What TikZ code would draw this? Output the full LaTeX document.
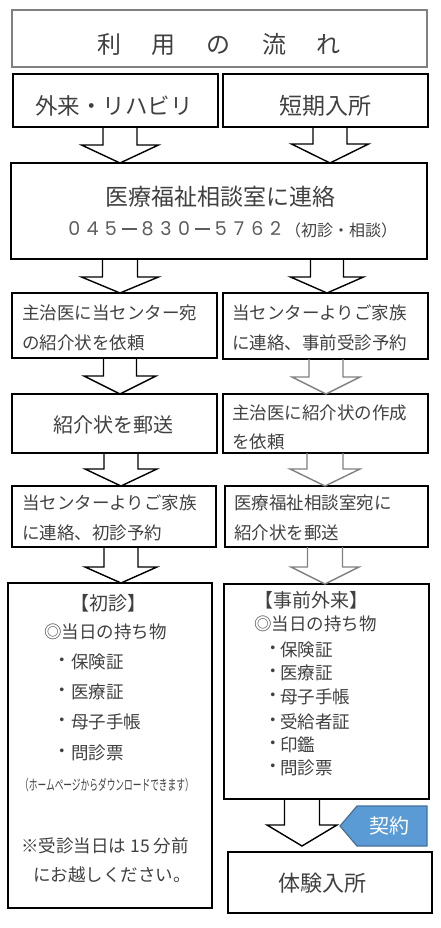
\documentclass[tikz,border=0pt]{standalone}
\usepackage{fontspec}
\usepackage{graphicx}
\newfontfamily\jp{Noto Sans CJK JP}
\newfontfamily\pop{Poppins}
\usetikzlibrary{fit,calc}
\definecolor{txt}{HTML}{404040}
\definecolor{graybd}{HTML}{808080}
\definecolor{tagfill}{HTML}{5B9BD5}
\definecolor{tagbd}{HTML}{41719C}
\newcommand\dg[1]{\makebox[18.3pt][c]{#1}}
\newcommand\dsh{\makebox[18.3pt][c]{\rule[0.33em]{15pt}{1.3pt}}}
\newcommand\barrow[7]{\draw[#1] let \p1=(#2), \p2=(#3) in
 (#4pt-#5pt,\y1) -- (#4pt-#5pt,\y2+#7pt) -- (#4pt-#6pt,\y2+#7pt) -- (#4pt,\y2) --
 (#4pt+#6pt,\y2+#7pt) -- (#4pt+#5pt,\y2+#7pt) -- (#4pt+#5pt,\y1);}
\begin{document}
\begin{tikzpicture}[x=1pt,y=-1pt,
  box/.style={draw=black, line width=1.2pt, inner sep=0pt, outer sep=0pt},
  tbox/.style={draw=graybd, line width=1.3pt, inner sep=0pt, outer sep=0pt},
  lbl/.style={text=txt, inner sep=0pt, font=\jp\fontsize{17.5pt}{20pt}\selectfont},
  big/.style={lbl, font=\jp\fontsize{23pt}{26pt}\selectfont},
  mid/.style={lbl, font=\jp\fontsize{20pt}{24pt}\selectfont},
  blkarr/.style={draw=black, line width=1.4pt, line join=miter},
  grayarr/.style={draw=graybd, line width=1.4pt, line join=miter}]
\useasboundingbox (0,0) rectangle (440,928);
% title
\node[tbox, fit={(12,10) (427,67)}] (title) {};
\node[lbl, font=\jp\fontsize{24pt}{28pt}\selectfont] (titletext) at (219,44) {利\kern31pt 用\kern31pt の\kern31pt 流\kern31pt れ};
% row 1
\node[box, fit={(13,74) (218,127)}] (a1) {};
\node[big, font=\jp\fontsize{22.5pt}{26pt}\selectfont] (a1t) at (114,106) {外来・リハビリ};
\node[box, fit={(223,74) (428,127)}] (a2) {};
\node[big] (a2t) at (325,106) {短期入所};
% box B
\node[box, fit={(11,163) (427,259)}] (b) {};
\node[big] (bt) at (220,197) {医療福祉相談室に連絡};
\node[lbl, anchor=west, text=txt!85, font=\pop\fontsize{19pt}{22pt}\selectfont] (bphone) at (65,229) {\dg{0}\dg{4}\dg{5}\dsh\dg{8}\dg{3}\dg{0}\dsh\dg{5}\dg{7}\dg{6}\dg{2}};
\node[lbl, anchor=west, font=\jp\fontsize{16pt}{18pt}\selectfont] (bphone2) at (285,230) {（初診・相談）};
% row C
\node[box, fit={(12,293) (217,358)}] (c1) {};
\node[lbl, anchor=west] (c1a) at (22,313) {主治医に当センター宛};
\node[lbl, anchor=west] (c1b) at (22,343) {の紹介状を依頼};
\node[box, fit={(223,293) (428,359)}] (c2) {};
\node[lbl, anchor=west] (c2a) at (232,313) {当センターよりご家族};
\node[lbl, anchor=west] (c2b) at (232,343) {に連絡、事前受診予約};
% row D
\node[box, fit={(12,394) (217,453)}] (d1) {};
\node[mid] (d1t) at (113,425) {紹介状を郵送};
\node[box, fit={(223,394) (428,453)}] (d2) {};
\node[lbl, anchor=west] (d2a) at (232,413) {主治医に紹介状の作成};
\node[lbl, anchor=west] (d2b) at (232,442) {を依頼};
% row E
\node[box, fit={(12,486) (216,547)}] (e1) {};
\node[lbl, anchor=west] (e1a) at (22,503) {当センターよりご家族};
\node[lbl, anchor=west] (e1b) at (22,533) {に連絡、初診予約};
\node[box, fit={(225,486) (428,547)}] (e2) {};
\node[lbl, anchor=west] (e2a) at (234,503) {医療福祉相談室宛に};
\node[lbl, anchor=west] (e2b) at (234,533) {紹介状を郵送};
% box F1
\node[box, fit={(8,583) (212,908)}] (f1) {};
\node[lbl, font=\jp\fontsize{19pt}{22pt}\selectfont] (f1h) at (108,603) {【初診】};
\node[lbl, anchor=west] (f1m) at (44,632) {◎当日の持ち物};
\foreach \t/\yy [count=\i] in {保険証/662, 医療証/692, 母子手帳/722, 問診票/753}{
  \node[lbl] (f1bul\i) at (62,\yy) {・};
  \node[lbl, anchor=west] (f1it\i) at (71,\yy) {\t};
}
\node[lbl] (f1note) at (107,785) {\scalebox{0.6}[1]{\fontsize{14.5pt}{16pt}\selectfont （ホームページからダウンロードできます）}};
\node[lbl] (f1w1) at (105,846) {※受診当日は 15 分前};
\node[lbl] (f1w2) at (112,875) {にお越しください。};
% box F2
\node[box, fit={(224,584) (429,799)}] (f2) {};
\node[lbl, font=\jp\fontsize{19pt}{22pt}\selectfont] (f2h) at (311,600) {【事前外来】};
\node[lbl, anchor=west] (f2m) at (254,624) {◎当日の持ち物};
\foreach \t/\yy [count=\i] in {保険証/650, 医療証/673, 母子手帳/697, 受給者証/722, 印鑑/745, 問診票/768}{
  \node[lbl] (f2bul\i) at (273,\yy) {・};
  \node[lbl, anchor=west] (f2it\i) at (280,\yy) {\t};
}
% box G
\node[box, fit={(228,852) (432,913)}] (g) {};
\node[big, font=\jp\fontsize{22pt}{26pt}\selectfont] (gt) at (322,883) {体験入所};
% tag
\draw[fill=tagfill, draw=tagbd, line width=1.2pt, line join=miter] (340,826) -- (357,806) -- (427,806) -- (427,846) -- (357,846) -- cycle;
\node[lbl, text=white, font=\jp\fontsize{20pt}{24pt}\selectfont] (keiyaku) at (389,826) {契約};
% arrows
\barrow{blkarr}{a1.south}{b.north}{120}{17}{38.5}{18}
\barrow{blkarr}{a2.south}{b.north}{330}{17}{38.5}{19}
\barrow{blkarr}{b.south}{c1.north}{120}{17.5}{38.5}{16}
\barrow{blkarr}{b.south}{c2.north}{327}{16.5}{36.5}{16}
\barrow{blkarr}{c1.south}{d1.north}{120}{16.5}{36}{18}
\barrow{grayarr}{c2.south}{d2.north}{326}{17}{34}{17}
\barrow{blkarr}{d1.south}{e1.north}{121}{17}{36}{17}
\barrow{grayarr}{d2.south}{e2.north}{325}{18}{35}{17}
\barrow{blkarr}{e1.south}{f1.north}{121}{17}{36}{16}
\barrow{grayarr}{e2.south}{f2.north}{325}{17.5}{34}{17}
\barrow{blkarr}{f2.south}{$(g.north)+(0,-6)$}{302}{17.5}{35}{21}
\end{tikzpicture}
\end{document}
